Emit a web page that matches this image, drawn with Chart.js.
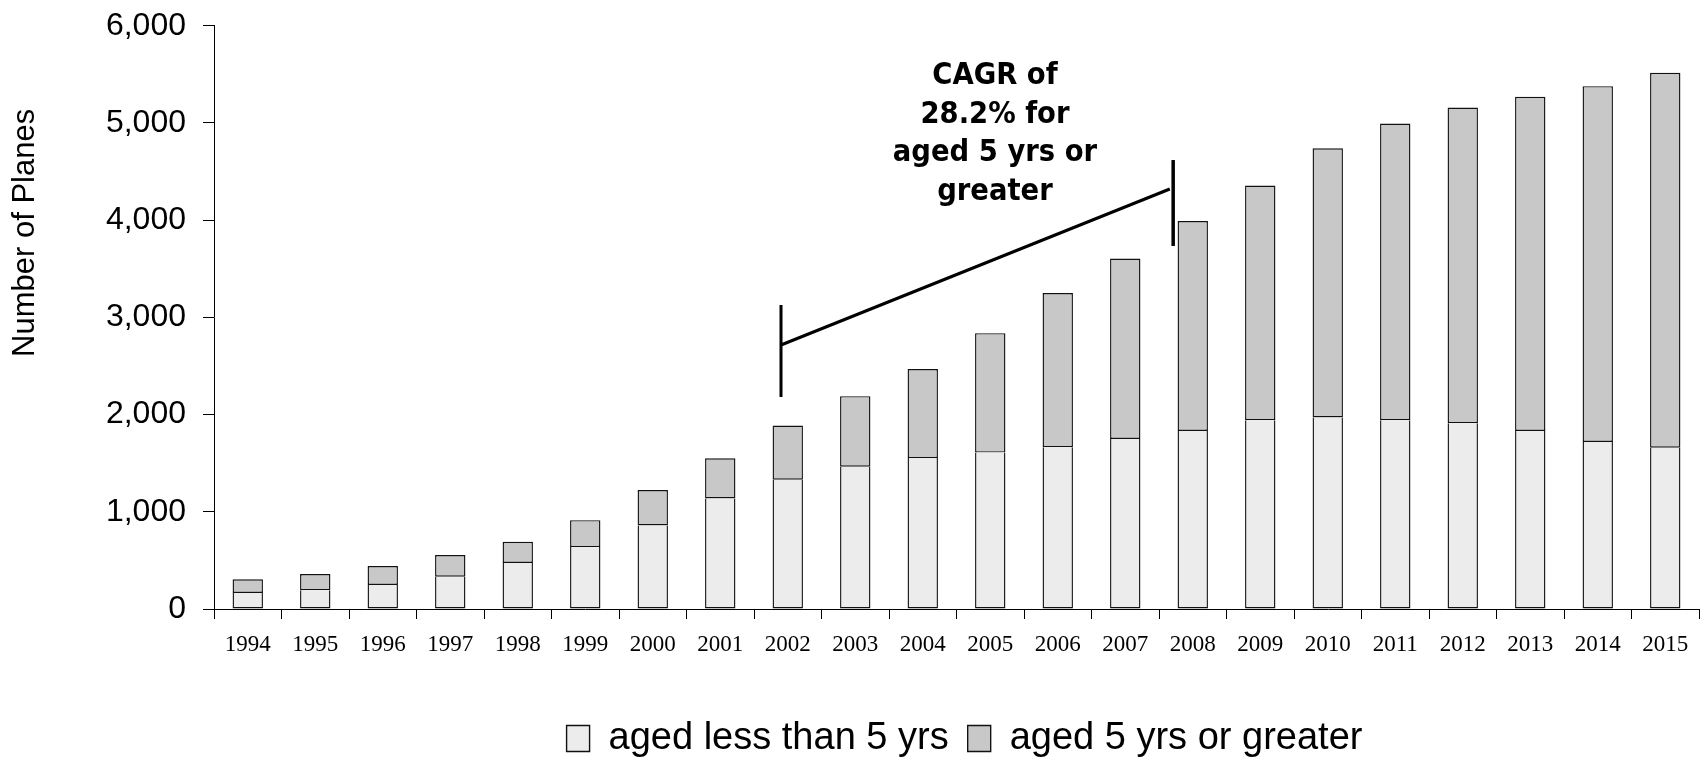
<!DOCTYPE html>
<html>
<head>
<meta charset="utf-8">
<script src="https://cdn.jsdelivr.net/npm/chart.js@4/dist/chart.umd.min.js"></script>
<style>
  html, body { margin: 0; padding: 0; background: #fff; }
  #wrap { width: 1702px; height: 759px; }
</style>
</head>
<body>
<div id="wrap"><canvas id="barChart"></canvas></div>
<script>
const years = ["1994", "1995", "1996", "1997", "1998", "1999", "2000", "2001", "2002", "2003", "2004",
	"2005", "2006", "2007", "2008", "2009", "2010", "2011", "2012", "2013", "2014", "2015"];
// lower part of each bar
const youngPlanes = [165, 192, 247, 332, 473, 637, 860, 1137, 1330, 1464, 1553,
	1609, 1665, 1750, 1832, 1943, 1970, 1943, 1911, 1832, 1718, 1659];
// totals
const totalPlanes = [305, 360, 442, 555, 692, 914, 1223, 1551, 1888, 2190, 2469,
	2838, 3251, 3605, 3991, 4357, 4739, 4994, 5159, 5269, 5379, 5517];
const olderPlanes = totalPlanes.map((t, i) => t - youngPlanes[i]);
const yTicks = [0, 1000, 2000, 3000, 4000, 5000, 6000];
const yTitle = "Number of Planes";
const noteLines = ["CAGR of", "28.2% for", "aged 5 yrs or", "greater"];

// bracket drawn over the bars, in (category index, value) units
const bracket = {
	left: { x: 7.9, y1: 2181, y2: 3128 },
	right: { x: 13.71, y1: 3735, y2: 4619 },
	diag: { x1: 7.9, y1: 2716, x2: 13.66, y2: 4321 },
	text: { x: 11.07, y: 5480 },
};

const bracketPlugin = {
	id: "bracket",
	afterLayout(chart) {
		// legend sits centred under the plot area, a bit lower than default
		const lg = chart.legend, ca = chart.chartArea;
		const h = lg.height;
		lg.left = ca.left + 8;
		lg.right = ca.right + 8;
		lg.width = ca.right - ca.left;
		lg.top = 734 - h / 2;
		lg.bottom = lg.top + h;
	},
	afterDatasetsDraw(chart) {
		const c = chart.ctx;
		const xs = chart.scales.x, ys = chart.scales.y;
		const px = (v) => xs.getPixelForValue(0) + v * (xs.getPixelForValue(1) - xs.getPixelForValue(0));
		c.save();
		c.strokeStyle = "#000";
		c.lineWidth = 3;
		c.beginPath();
		c.moveTo(px(bracket.left.x), ys.getPixelForValue(bracket.left.y1));
		c.lineTo(px(bracket.left.x), ys.getPixelForValue(bracket.left.y2));
		c.moveTo(px(bracket.diag.x1), ys.getPixelForValue(bracket.diag.y1));
		c.lineTo(px(bracket.diag.x2), ys.getPixelForValue(bracket.diag.y2));
		c.stroke();
		c.lineWidth = 3.5;
		c.beginPath();
		c.moveTo(px(bracket.right.x), ys.getPixelForValue(bracket.right.y1));
		c.lineTo(px(bracket.right.x), ys.getPixelForValue(bracket.right.y2));
		c.stroke();
		c.fillStyle = "#000";
		c.font = "bold 30.5px 'DejaVu Sans Condensed', 'DejaVu Sans', sans-serif";
		c.textAlign = "center";
		c.textBaseline = "middle";
		const tx = px(bracket.text.x);
		const ty = ys.getPixelForValue(bracket.text.y);
		noteLines.forEach((line, i) => c.fillText(line, tx, ty + i * 38.5));

		// axis title, placed higher than the axis centre as in the original
		c.font = "31px 'Liberation Sans', Arial, sans-serif";
		c.translate(25, ys.getPixelForValue(3870));
		c.rotate(-Math.PI / 2);
		c.fillText(yTitle, 0, 0);
		c.restore();
	},
};

const legendFont = { family: "'Liberation Sans', Arial, sans-serif", size: 38 };

const data1 = {
	labels: years,
	datasets: [
		{
			label: "aged less than 5 yrs",
			data: youngPlanes,
			backgroundColor: "#ececec",
			borderColor: "#111",
			borderWidth: 1.4,
			borderSkipped: "top",
			barPercentage: 0.45,
			categoryPercentage: 1.0,
		},
		{
			label: "aged 5 yrs or greater",
			data: olderPlanes,
			backgroundColor: "#c8c8c8",
			borderColor: "#111",
			borderWidth: 1.4,
			borderSkipped: false,
			barPercentage: 0.45,
			categoryPercentage: 1.0,
		},
	],
};

const config2 = {
	type: "bar",
	data: data1,
	plugins: [bracketPlugin],
	options: {
		responsive: true,
		maintainAspectRatio: false,
		animation: false,
		layout: { padding: { top: 0, right: 3, bottom: 0, left: 0 } },
		plugins: {
			tooltip: { enabled: false },
			legend: {
				position: "bottom",
				labels: {
					color: "#000",
					font: legendFont,
					boxWidth: 23,
					boxHeight: 26,
					padding: 19,
				},
			},
		},
		scales: {
			x: {
				stacked: true,
				grid: { display: true, drawOnChartArea: false, color: "#000", tickLength: 10, offset: true },
				border: { color: "#000", width: 1 },
				ticks: {
					color: "#000",
					font: { family: "'Liberation Serif', 'Times New Roman', serif", size: 23 },
					maxRotation: 0,
					autoSkip: false,
					padding: 12,
				},
				afterFit: (s) => { s.height = 83; },
			},
			y: {
				stacked: true,
				min: 0,
				max: 6000,
				afterBuildTicks: (s) => { s.ticks = yTicks.map((v) => ({ value: v })); },
				grid: { display: true, drawOnChartArea: false, color: "#000", tickLength: 11 },
				border: { color: "#000", width: 1 },
				ticks: {
					color: "#000",
					font: { family: "'Liberation Sans', Arial, sans-serif", size: 32, lineHeight: 0.55 },
					padding: 17,
					callback: (v) => v.toLocaleString("en-US"),
				},
				afterFit: (s) => { s.width = 214; },
			},
		},
	},
};

const ctx2 = document.getElementById("barChart").getContext("2d");
const barChart = new Chart(ctx2, config2);
</script>
</body>
</html>
